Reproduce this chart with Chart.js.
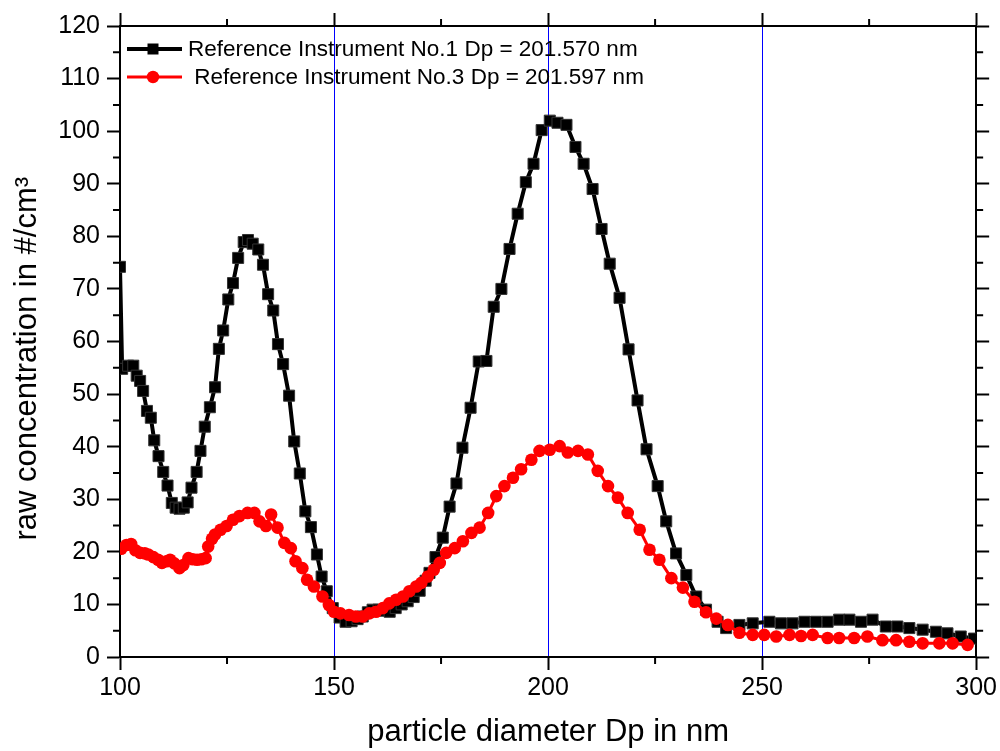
<!DOCTYPE html>
<html>
<head>
<meta charset="utf-8">
<script src="https://cdn.jsdelivr.net/npm/chart.js@4.4.0/dist/chart.umd.min.js"></script>
<style>
  body { margin: 0; background: #fff; }
  canvas { display: block; }
</style>
</head>
<body>
<canvas id="chart1" width="1000" height="751"></canvas>
<script>
// particle diameter (nm) and raw concentration (#/cm3)
var dpNo1 = [100.0, 100.5, 101.9, 103.1, 103.9, 104.7, 105.4, 106.3, 107.2, 108.0,
  109.0, 110.1, 111.1, 112.1, 113.0, 113.9, 114.9, 115.8, 116.7, 117.9,
  118.8, 119.8, 121.0, 122.2, 123.1, 124.1, 125.3, 126.4, 127.6, 128.9,
  129.9, 131.0, 132.3, 133.4, 134.6, 135.8, 136.9, 138.1, 139.5, 140.7,
  142.0, 143.3, 144.6, 146.0, 147.1, 148.3, 149.7, 151.3, 152.7, 154.1,
  155.5, 156.7, 157.9, 159.0, 160.4, 161.8, 163.0, 164.4, 165.8, 167.2,
  168.6, 170.0, 171.4, 172.3, 173.7, 175.4, 177.0, 178.6, 180.0, 181.9,
  183.8, 185.6, 187.3, 189.1, 191.0, 192.9, 194.8, 196.6, 198.5, 200.4,
  202.2, 204.3, 206.4, 208.3, 210.4, 212.5, 214.4, 216.7, 218.8, 220.9,
  223.0, 225.6, 227.6, 229.9, 232.3, 234.6, 236.9, 239.6, 241.6, 244.7,
  247.8, 251.7, 254.4, 257.1, 259.9, 262.6, 265.3, 268.0, 270.4, 273.1,
  275.8, 278.9, 281.6, 284.4, 287.5, 290.6, 293.3, 296.4, 299.5];
var concNo1 = [74.2, 54.8, 55.4, 55.4, 53.5, 52.5, 50.6, 46.8, 45.5, 41.2,
  38.2, 35.2, 32.6, 29.3, 28.4, 28.2, 28.4, 29.4, 32.2, 35.2,
  39.2, 43.8, 47.5, 51.3, 58.6, 62.1, 68.0, 71.1, 75.9, 78.9,
  79.3, 78.6, 77.5, 74.6, 69.0, 65.9, 59.5, 55.7, 49.7, 41.0,
  34.9, 27.7, 24.7, 19.5, 15.3, 12.5, 9.3, 7.5, 6.7, 6.8,
  7.2, 7.7, 8.5, 9.0, 9.0, 8.8, 8.6, 9.3, 10.0, 10.6,
  11.4, 12.6, 14.5, 16.0, 19.0, 22.7, 28.6, 33.0, 39.8, 47.4,
  56.2, 56.3, 66.6, 70.0, 77.6, 84.3, 90.3, 93.8, 100.2, 102.0,
  101.6, 101.2, 97.0, 93.8, 89.0, 81.4, 74.8, 68.3, 58.5, 48.8,
  39.5, 32.5, 25.8, 19.7, 15.6, 11.5, 9.0, 6.7, 5.5, 6.1,
  6.4, 6.7, 6.4, 6.4, 6.7, 6.7, 6.7, 7.1, 7.1, 6.7,
  7.1, 5.8, 5.8, 5.5, 5.2, 4.8, 4.5, 3.9, 3.5];

var dpNo3 = [100.3, 101.5, 102.6, 103.6, 104.7, 105.8, 106.6, 107.8, 108.9, 109.8,
  110.9, 111.7, 112.7, 113.9, 114.8, 116.0, 117.0, 118.0, 119.0, 120.0,
  120.6, 121.5, 122.2, 123.5, 124.9, 126.4, 127.9, 129.8, 131.4, 132.6,
  134.1, 135.3, 136.8, 138.4, 139.9, 141.0, 142.6, 143.7, 145.3, 147.3,
  148.8, 150.0, 151.5, 153.5, 155.1, 156.7, 158.2, 159.8, 161.4, 162.9,
  164.5, 166.1, 167.6, 169.2, 170.4, 171.9, 173.3, 174.7, 176.2, 178.2,
  180.1, 182.1, 184.0, 186.0, 187.9, 189.8, 191.8, 193.7, 196.1, 198.0,
  200.4, 202.7, 204.6, 207.0, 209.3, 211.6, 214.0, 216.3, 218.6, 221.4,
  223.7, 226.0, 228.8, 231.5, 234.2, 236.9, 239.3, 242.0, 244.7, 247.8,
  250.5, 253.3, 256.4, 259.1, 261.8, 265.3, 268.0, 271.5, 274.6, 278.1,
  281.3, 284.4, 287.5, 291.4, 294.5, 298.0];
var concNo3 = [20.6, 21.3, 21.5, 20.3, 19.8, 19.7, 19.5, 19.0, 18.5, 17.9,
  18.2, 18.5, 17.8, 16.9, 17.5, 18.8, 18.6, 18.5, 18.6, 18.8,
  21.0, 22.5, 23.3, 24.2, 24.9, 26.1, 26.8, 27.4, 27.4, 25.8,
  24.9, 27.1, 24.6, 21.7, 20.7, 18.2, 16.9, 14.7, 13.4, 11.5,
  9.9, 8.6, 8.3, 8.0, 7.7, 7.7, 8.3, 8.6, 9.3, 10.2,
  10.9, 11.5, 12.5, 13.4, 14.1, 15.3, 16.6, 17.9, 19.8, 20.7,
  22.0, 23.6, 24.6, 27.4, 30.6, 32.5, 34.1, 35.7, 37.5, 39.2,
  39.4, 40.1, 38.9, 39.2, 38.5, 35.4, 32.5, 30.3, 27.4, 24.2,
  20.4, 18.5, 15.0, 13.2, 10.5, 8.5, 7.3, 6.1, 4.6, 4.2,
  4.2, 3.9, 4.2, 4.0, 4.2, 3.6, 3.6, 3.6, 3.9, 3.2,
  3.2, 2.9, 2.6, 2.6, 2.6, 2.3];

var minorX = [125, 175, 225, 275];
var minorY = [5, 15, 25, 35, 45, 55, 65, 75, 85, 95, 105, 115];

function pairs(xs, ys) {
  return xs.map(function (v, i) { return {x: v, y: ys[i]}; });
}

var font = "'Liberation Sans', Arial, sans-serif";

// minor ticks on all four sides + the legend box in the top left corner
const extras = {
  id: 'extras',
  afterDraw(chart) {
    const ctx = chart.ctx;
    const a = chart.chartArea;
    const x = chart.scales.x, y = chart.scales.y;
    ctx.save();
    ctx.strokeStyle = '#000';
    ctx.lineWidth = 2;
    ctx.beginPath();
    minorX.forEach(function (v) {
      const px = x.getPixelForValue(v);
      ctx.moveTo(px, a.bottom); ctx.lineTo(px, a.bottom + 7);
      ctx.moveTo(px, a.top); ctx.lineTo(px, a.top - 7);
    });
    minorY.forEach(function (v) {
      const py = y.getPixelForValue(v);
      ctx.moveTo(a.left, py); ctx.lineTo(a.left - 7, py);
      ctx.moveTo(a.right, py); ctx.lineTo(a.right + 7, py);
    });
    ctx.stroke();

    ctx.font = '22.5px ' + font;
    ctx.textBaseline = 'middle';
    ctx.textAlign = 'left';
    chart.data.datasets.forEach(function (ds, i) {
      const ly = a.top + 23 + i * 28;
      ctx.strokeStyle = ds.borderColor;
      ctx.fillStyle = ds.borderColor;
      ctx.lineWidth = ds.borderWidth;
      ctx.beginPath();
      ctx.moveTo(a.left + 7, ly);
      ctx.lineTo(a.left + 62, ly);
      ctx.stroke();
      const mx = a.left + 33;
      ctx.beginPath();
      if (ds.pointStyle === 'rect') {
        ctx.rect(mx - 5.5, ly - 5.5, 11, 11);
      } else {
        ctx.arc(mx, ly, 6.2, 0, Math.PI * 2);
      }
      ctx.fill();
      ctx.fillStyle = '#000';
      ctx.fillText(ds.label, a.left + 68, ly + 1);
    });
    ctx.restore();
  }
};

const config1 = {
  type: 'line',
  data: {
    datasets: [
      {
        label: 'Reference Instrument No.1 Dp = 201.570 nm',
        data: pairs(dpNo1, concNo1),
        borderColor: '#000000',
        backgroundColor: '#000000',
        borderWidth: 4,
        pointStyle: 'rect',
        pointRadius: 7.8,
        pointBorderWidth: 1,
        pointBackgroundColor: '#000000',
        pointBorderColor: '#333333',
        tension: 0,
        order: 1
      },
      {
        label: ' Reference Instrument No.3 Dp = 201.597 nm',
        data: pairs(dpNo3, concNo3),
        borderColor: '#ff0000',
        backgroundColor: '#ff0000',
        borderWidth: 3,
        pointStyle: 'circle',
        pointRadius: 6.3,
        pointBorderWidth: 0,
        pointBackgroundColor: '#ff0000',
        tension: 0,
        order: 0
      }
    ]
  },
  options: {
    responsive: false,
    animation: false,
    devicePixelRatio: 1,
    layout: { padding: 0 },
    plugins: {
      legend: { display: false },
      tooltip: { enabled: false }
    },
    scales: {
      x: {
        type: 'linear',
        position: 'bottom',
        min: 100,
        max: 300,
        afterFit: function (s) { s.height = 94; },
        ticks: { stepSize: 50, color: '#000', padding: 3, font: { family: font, size: 25 } },
        grid: {
          color: function (c) {
            return (c.tick && c.tick.value > 100 && c.tick.value < 300) ? '#0000ff' : 'rgba(0,0,0,0)';
          },
          lineWidth: 1,
          tickColor: '#000',
          tickWidth: 2,
          tickLength: 13
        },
        border: { color: '#000', width: 2 },
        title: {
          display: true,
          text: 'particle diameter Dp in nm',
          color: '#000',
          font: { family: font, size: 31, lineHeight: 1 },
          padding: { top: 0, bottom: 3 }
        }
      },
      x2: {
        type: 'linear',
        position: 'top',
        min: 100,
        max: 300,
        afterFit: function (s) { s.height = 26; },
        ticks: { stepSize: 50, display: false },
        grid: { drawOnChartArea: false, tickColor: '#000', tickWidth: 2, tickLength: 13 },
        border: { color: '#000', width: 2 }
      },
      y: {
        type: 'linear',
        position: 'left',
        min: 0,
        max: 120,
        afterFit: function (s) { s.width = 120; },
        ticks: { stepSize: 10, color: '#000', padding: 7, font: { family: font, size: 25 } },
        grid: { drawOnChartArea: false, tickColor: '#000', tickWidth: 2, tickLength: 13 },
        border: { color: '#000', width: 2 },
        title: {
          display: true,
          text: 'raw concentration in #/cm\u00b3    ',
          color: '#000',
          font: { family: font, size: 31, lineHeight: 1 },
          padding: { top: 12, bottom: 0 }
        }
      },
      y2: {
        type: 'linear',
        position: 'right',
        min: 0,
        max: 120,
        afterFit: function (s) { s.width = 23; },
        ticks: { stepSize: 10, display: false },
        grid: { drawOnChartArea: false, tickColor: '#000', tickWidth: 2, tickLength: 13 },
        border: { color: '#000', width: 2 }
      }
    }
  },
  plugins: [extras]
};

const chart1 = new Chart(document.getElementById('chart1'), config1);
</script>
</body>
</html>
